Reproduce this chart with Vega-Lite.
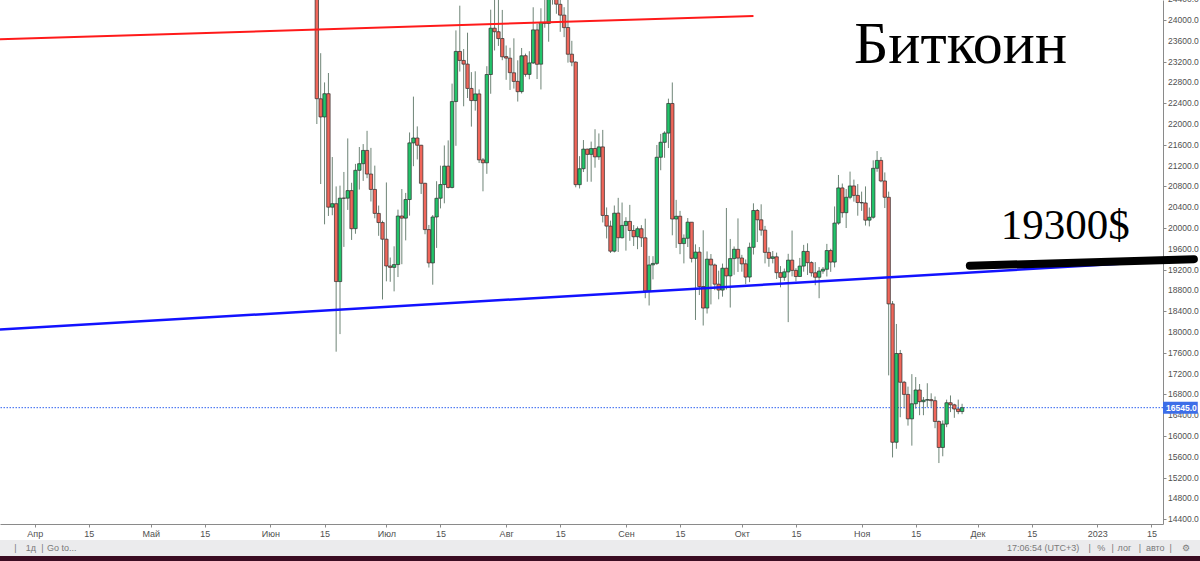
{
  "$schema": "https://vega.github.io/schema/vega-lite/v6.json",
  "autosize": {"type": "none"},
  "padding": {"left": 0, "top": 0, "right": 37, "bottom": 37},
  "background": "white",
  "width": 1163,
  "height": 524,
  "config": {
    "view": {"stroke": null},
    "font": "Liberation Sans",
    "scale": {"continuousPadding": 0}
  },
  "datasets": {
    "candles": [
      {"d":"2022-06-13","o":26574,"h":26895,"l":22000,"c":22487},
      {"d":"2022-06-14","o":22485,"h":23362,"l":20846,"c":22136},
      {"d":"2022-06-15","o":22136,"h":22800,"l":20071,"c":22583},
      {"d":"2022-06-16","o":22583,"h":22981,"l":20232,"c":20401},
      {"d":"2022-06-17","o":20401,"h":21365,"l":20246,"c":20468},
      {"d":"2022-06-18","o":20468,"h":20800,"l":17622,"c":18970},
      {"d":"2022-06-19","o":18970,"h":20815,"l":17960,"c":20574},
      {"d":"2022-06-20","o":20574,"h":21078,"l":19637,"c":20573},
      {"d":"2022-06-21","o":20574,"h":21723,"l":20348,"c":20720},
      {"d":"2022-06-22","o":20720,"h":20870,"l":19771,"c":19987},
      {"d":"2022-06-23","o":19988,"h":21233,"l":19890,"c":21110},
      {"d":"2022-06-24","o":21110,"h":21558,"l":20740,"c":21237},
      {"d":"2022-06-25","o":21237,"h":21614,"l":20906,"c":21492},
      {"d":"2022-06-26","o":21492,"h":21869,"l":20958,"c":21038},
      {"d":"2022-06-27","o":21038,"h":21541,"l":20510,"c":20742},
      {"d":"2022-06-28","o":20742,"h":21200,"l":20187,"c":20281},
      {"d":"2022-06-29","o":20281,"h":20432,"l":19850,"c":20105},
      {"d":"2022-06-30","o":20105,"h":20141,"l":18626,"c":19785},
      {"d":"2022-07-01","o":19785,"h":20876,"l":18975,"c":19270},
      {"d":"2022-07-02","o":19269,"h":19432,"l":18966,"c":19243},
      {"d":"2022-07-03","o":19243,"h":19648,"l":18782,"c":19297},
      {"d":"2022-07-04","o":19297,"h":20354,"l":19057,"c":20231},
      {"d":"2022-07-05","o":20231,"h":20750,"l":19304,"c":20190},
      {"d":"2022-07-06","o":20190,"h":20675,"l":19762,"c":20548},
      {"d":"2022-07-07","o":20548,"h":21838,"l":20238,"c":21637},
      {"d":"2022-07-08","o":21637,"h":22527,"l":21189,"c":21731},
      {"d":"2022-07-09","o":21731,"h":21954,"l":21319,"c":21592},
      {"d":"2022-07-10","o":21592,"h":21599,"l":20655,"c":20860},
      {"d":"2022-07-11","o":20860,"h":20870,"l":19880,"c":19970},
      {"d":"2022-07-12","o":19970,"h":20059,"l":19240,"c":19329},
      {"d":"2022-07-13","o":19329,"h":20250,"l":18910,"c":20212},
      {"d":"2022-07-14","o":20212,"h":20900,"l":19617,"c":20572},
      {"d":"2022-07-15","o":20573,"h":21200,"l":20377,"c":20836},
      {"d":"2022-07-16","o":20836,"h":21588,"l":20475,"c":21190},
      {"d":"2022-07-17","o":21190,"h":21685,"l":20760,"c":20780},
      {"d":"2022-07-18","o":20780,"h":22777,"l":20762,"c":22432},
      {"d":"2022-07-19","o":22432,"h":23800,"l":21581,"c":23396},
      {"d":"2022-07-20","o":23396,"h":24276,"l":23009,"c":23223},
      {"d":"2022-07-21","o":23223,"h":23442,"l":22341,"c":23152},
      {"d":"2022-07-22","o":23152,"h":23756,"l":22500,"c":22684},
      {"d":"2022-07-23","o":22684,"h":22998,"l":21950,"c":22451},
      {"d":"2022-07-24","o":22451,"h":23014,"l":22257,"c":22579},
      {"d":"2022-07-25","o":22579,"h":22666,"l":21250,"c":21310},
      {"d":"2022-07-26","o":21310,"h":21347,"l":20706,"c":21254},
      {"d":"2022-07-27","o":21254,"h":23112,"l":21042,"c":22952},
      {"d":"2022-07-28","o":22952,"h":24199,"l":22582,"c":23843},
      {"d":"2022-07-29","o":23843,"h":24442,"l":23414,"c":23775},
      {"d":"2022-07-30","o":23775,"h":24668,"l":23502,"c":23643},
      {"d":"2022-07-31","o":23644,"h":24194,"l":23227,"c":23293},
      {"d":"2022-08-01","o":23297,"h":23510,"l":22850,"c":23268},
      {"d":"2022-08-02","o":23267,"h":23466,"l":22655,"c":22988},
      {"d":"2022-08-03","o":22985,"h":23648,"l":22681,"c":22819},
      {"d":"2022-08-04","o":22820,"h":23225,"l":22432,"c":22622},
      {"d":"2022-08-05","o":22623,"h":23462,"l":22587,"c":23312},
      {"d":"2022-08-06","o":23314,"h":23354,"l":22910,"c":22955},
      {"d":"2022-08-07","o":22954,"h":23400,"l":22860,"c":23175},
      {"d":"2022-08-08","o":23174,"h":24245,"l":23155,"c":23810},
      {"d":"2022-08-09","o":23810,"h":23925,"l":22865,"c":23149},
      {"d":"2022-08-10","o":23151,"h":24226,"l":22665,"c":23954},
      {"d":"2022-08-11","o":23954,"h":24918,"l":23852,"c":23934},
      {"d":"2022-08-12","o":23934,"h":24456,"l":23583,"c":24403},
      {"d":"2022-08-13","o":24401,"h":24888,"l":24296,"c":24441},
      {"d":"2022-08-14","o":24443,"h":25047,"l":24120,"c":24305},
      {"d":"2022-08-15","o":24302,"h":25211,"l":23773,"c":24094},
      {"d":"2022-08-16","o":24094,"h":24247,"l":23671,"c":23854},
      {"d":"2022-08-17","o":23856,"h":24446,"l":23180,"c":23342},
      {"d":"2022-08-18","o":23343,"h":23600,"l":23111,"c":23191},
      {"d":"2022-08-19","o":23191,"h":23203,"l":20783,"c":20834},
      {"d":"2022-08-20","o":20834,"h":21382,"l":20761,"c":21140},
      {"d":"2022-08-21","o":21140,"h":21692,"l":21077,"c":21517},
      {"d":"2022-08-22","o":21517,"h":21525,"l":20890,"c":21416},
      {"d":"2022-08-23","o":21416,"h":21662,"l":20890,"c":21528},
      {"d":"2022-08-24","o":21529,"h":21900,"l":21160,"c":21368},
      {"d":"2022-08-25","o":21369,"h":21819,"l":21310,"c":21560},
      {"d":"2022-08-26","o":21560,"h":21887,"l":20107,"c":20242},
      {"d":"2022-08-27","o":20241,"h":20396,"l":19800,"c":20037},
      {"d":"2022-08-28","o":20037,"h":20142,"l":19520,"c":19555},
      {"d":"2022-08-29","o":19555,"h":20433,"l":19530,"c":20285},
      {"d":"2022-08-30","o":20287,"h":20580,"l":19540,"c":19813},
      {"d":"2022-08-31","o":19813,"h":20490,"l":19798,"c":20050},
      {"d":"2022-09-01","o":20049,"h":20208,"l":19565,"c":20127},
      {"d":"2022-09-02","o":20127,"h":20445,"l":19754,"c":19952},
      {"d":"2022-09-03","o":19953,"h":20057,"l":19655,"c":19832},
      {"d":"2022-09-04","o":19832,"h":20029,"l":19593,"c":19986},
      {"d":"2022-09-05","o":19986,"h":20055,"l":19636,"c":19812},
      {"d":"2022-09-06","o":19812,"h":20180,"l":18650,"c":18791},
      {"d":"2022-09-07","o":18790,"h":19464,"l":18510,"c":19290},
      {"d":"2022-09-08","o":19292,"h":19458,"l":19012,"c":19319},
      {"d":"2022-09-09","o":19320,"h":21597,"l":19291,"c":21361},
      {"d":"2022-09-10","o":21361,"h":21810,"l":21111,"c":21649},
      {"d":"2022-09-11","o":21648,"h":21860,"l":21350,"c":21826},
      {"d":"2022-09-12","o":21826,"h":22488,"l":21538,"c":22395},
      {"d":"2022-09-13","o":22395,"h":22799,"l":19860,"c":20173},
      {"d":"2022-09-14","o":20173,"h":20541,"l":19617,"c":20226},
      {"d":"2022-09-15","o":20227,"h":20330,"l":19497,"c":19701},
      {"d":"2022-09-16","o":19701,"h":19877,"l":19320,"c":19803},
      {"d":"2022-09-17","o":19803,"h":20192,"l":19635,"c":20113},
      {"d":"2022-09-18","o":20112,"h":20112,"l":19338,"c":19416},
      {"d":"2022-09-19","o":19417,"h":19686,"l":18232,"c":19537},
      {"d":"2022-09-20","o":19537,"h":19634,"l":18711,"c":18875},
      {"d":"2022-09-21","o":18875,"h":19956,"l":18125,"c":18461},
      {"d":"2022-09-22","o":18461,"h":19550,"l":18356,"c":19401},
      {"d":"2022-09-23","o":19401,"h":19500,"l":18531,"c":19289},
      {"d":"2022-09-24","o":19289,"h":19316,"l":18805,"c":18920},
      {"d":"2022-09-25","o":18920,"h":19180,"l":18629,"c":18807},
      {"d":"2022-09-26","o":18807,"h":19316,"l":18680,"c":19227},
      {"d":"2022-09-27","o":19227,"h":20385,"l":18816,"c":19079},
      {"d":"2022-09-28","o":19079,"h":19790,"l":18471,"c":19412},
      {"d":"2022-09-29","o":19412,"h":19645,"l":19101,"c":19591},
      {"d":"2022-09-30","o":19590,"h":20185,"l":19155,"c":19422},
      {"d":"2022-10-01","o":19423,"h":19484,"l":19160,"c":19310},
      {"d":"2022-10-02","o":19312,"h":19395,"l":18920,"c":19056},
      {"d":"2022-10-03","o":19057,"h":19719,"l":18959,"c":19629},
      {"d":"2022-10-04","o":19629,"h":20475,"l":19490,"c":20337},
      {"d":"2022-10-05","o":20337,"h":20365,"l":19730,"c":20158},
      {"d":"2022-10-06","o":20158,"h":20456,"l":19853,"c":19960},
      {"d":"2022-10-07","o":19960,"h":20041,"l":19320,"c":19531},
      {"d":"2022-10-08","o":19531,"h":19627,"l":19255,"c":19417},
      {"d":"2022-10-09","o":19416,"h":19558,"l":19320,"c":19446},
      {"d":"2022-10-10","o":19446,"h":19527,"l":19020,"c":19141},
      {"d":"2022-10-11","o":19141,"h":19268,"l":18860,"c":19051},
      {"d":"2022-10-12","o":19052,"h":19221,"l":18987,"c":19157},
      {"d":"2022-10-13","o":19156,"h":19504,"l":18190,"c":19382},
      {"d":"2022-10-14","o":19382,"h":19951,"l":19070,"c":19185},
      {"d":"2022-10-15","o":19185,"h":19227,"l":18975,"c":19067},
      {"d":"2022-10-16","o":19068,"h":19425,"l":19063,"c":19268},
      {"d":"2022-10-17","o":19268,"h":19676,"l":19160,"c":19550},
      {"d":"2022-10-18","o":19550,"h":19706,"l":19097,"c":19334},
      {"d":"2022-10-19","o":19335,"h":19360,"l":19066,"c":19139},
      {"d":"2022-10-20","o":19139,"h":19345,"l":18900,"c":19053},
      {"d":"2022-10-21","o":19053,"h":19250,"l":18650,"c":19172},
      {"d":"2022-10-22","o":19172,"h":19250,"l":19120,"c":19208},
      {"d":"2022-10-23","o":19207,"h":19695,"l":19068,"c":19567},
      {"d":"2022-10-24","o":19567,"h":19601,"l":19157,"c":19345},
      {"d":"2022-10-25","o":19345,"h":20415,"l":19243,"c":20095},
      {"d":"2022-10-26","o":20095,"h":21020,"l":20063,"c":20771},
      {"d":"2022-10-27","o":20771,"h":20855,"l":20200,"c":20295},
      {"d":"2022-10-28","o":20295,"h":20750,"l":20000,"c":20591},
      {"d":"2022-10-29","o":20591,"h":21085,"l":20553,"c":20809},
      {"d":"2022-10-30","o":20809,"h":20931,"l":20507,"c":20627},
      {"d":"2022-10-31","o":20627,"h":20845,"l":20237,"c":20490},
      {"d":"2022-11-01","o":20490,"h":20700,"l":20330,"c":20483},
      {"d":"2022-11-02","o":20482,"h":20800,"l":20048,"c":20151},
      {"d":"2022-11-03","o":20151,"h":20393,"l":20031,"c":20207},
      {"d":"2022-11-04","o":20207,"h":21302,"l":20180,"c":21148},
      {"d":"2022-11-05","o":21148,"h":21480,"l":21082,"c":21300},
      {"d":"2022-11-06","o":21300,"h":21365,"l":20880,"c":20905},
      {"d":"2022-11-07","o":20905,"h":21069,"l":20384,"c":20591},
      {"d":"2022-11-08","o":20591,"h":20700,"l":17166,"c":18541},
      {"d":"2022-11-09","o":18541,"h":18595,"l":15588,"c":15880},
      {"d":"2022-11-10","o":15880,"h":18155,"l":15755,"c":17587},
      {"d":"2022-11-11","o":17587,"h":17655,"l":16361,"c":17034},
      {"d":"2022-11-12","o":17034,"h":17060,"l":16531,"c":16800},
      {"d":"2022-11-13","o":16800,"h":16950,"l":16200,"c":16330},
      {"d":"2022-11-14","o":16330,"h":17190,"l":15815,"c":16620},
      {"d":"2022-11-15","o":16620,"h":17134,"l":16526,"c":16885},
      {"d":"2022-11-16","o":16885,"h":17000,"l":16400,"c":16660},
      {"d":"2022-11-17","o":16660,"h":16750,"l":16400,"c":16690},
      {"d":"2022-11-18","o":16690,"h":17015,"l":16550,"c":16700},
      {"d":"2022-11-19","o":16700,"h":16821,"l":16560,"c":16680},
      {"d":"2022-11-20","o":16680,"h":16760,"l":16150,"c":16280},
      {"d":"2022-11-21","o":16280,"h":16300,"l":15480,"c":15780},
      {"d":"2022-11-22","o":15780,"h":16300,"l":15610,"c":16230},
      {"d":"2022-11-23","o":16230,"h":16700,"l":16170,"c":16640},
      {"d":"2022-11-24","o":16640,"h":16780,"l":16460,"c":16600},
      {"d":"2022-11-25","o":16600,"h":16620,"l":16350,"c":16520},
      {"d":"2022-11-26","o":16520,"h":16700,"l":16420,"c":16470},
      {"d":"2022-11-27","o":16470,"h":16620,"l":16420,"c":16545}
    ],
    "redline": [{"d":"2022-03-23","p":23629},{"d":"2022-10-04","p":24077}],
    "blueline": [{"d":"2022-03-23","p":18046},{"d":"2023-01-18","p":19362}],
    "blackline": [{"d":"2022-11-29","p":19275},{"d":"2023-01-26","p":19400}],
    "price": [{"p":16545,"label":"16545.0","d0":"2023-01-18","d1":"2023-01-27"}],
    "notes": [
      {"d":"2022-10-30","p":23173,"text":"Биткоин","kind":"title"},
      {"d":"2022-12-07","p":19788,"text":"19300$","kind":"target"}
    ],
    "ticks": [
      {"v":14400},{"v":14800},{"v":15200},{"v":15600},{"v":16000},{"v":16400},{"v":16800},
      {"v":17200},{"v":17600},{"v":18000},{"v":18400},{"v":18800},{"v":19200},{"v":19600},
      {"v":20000},{"v":20400},{"v":20800},{"v":21200},{"v":21600},{"v":22000},{"v":22400},
      {"v":22800},{"v":23200},{"v":23600},{"v":24000},{"v":24400}
    ],
    "strip": [{"a":"2022-03-23","b":"2023-01-27T14:00:00Z"}],
    "toolbar": [
      {"d":"2022-03-27","t":"|"},
      {"d":"2022-03-31","t":"1д"},
      {"d":"2022-04-03","t":"|"},
      {"d":"2022-04-08","t":"Go to..."},
      {"d":"2022-12-18","t":"17:06:54 (UTC+3)"},
      {"d":"2022-12-30","t":"|"},
      {"d":"2023-01-02","t":"%"},
      {"d":"2023-01-05","t":"|"},
      {"d":"2023-01-08","t":"лог"},
      {"d":"2023-01-12","t":"|"},
      {"d":"2023-01-16","t":"авто"},
      {"d":"2023-01-20","t":"|"},
      {"d":"2023-01-24","t":"⚙"}
    ]
  },
  "layer": [
    {
      "data": {"name": "candles"},
      "mark": {"type": "rule", "color": "#6f8577", "strokeWidth": 1, "clip": true},
      "encoding": {
        "x": {
          "field": "d", "type": "temporal",
          "scale": {"type": "utc", "padding": 0, "domain": [{"year":2022,"month":3,"date":23,"utc":true},{"year":2023,"month":1,"date":18,"utc":true}]},
          "axis": {
            "orient": "bottom", "title": null, "grid": false,
            "values": [
              {"year":2022,"month":4,"date":1,"utc":true},{"year":2022,"month":4,"date":15,"utc":true},
              {"year":2022,"month":5,"date":1,"utc":true},{"year":2022,"month":5,"date":15,"utc":true},
              {"year":2022,"month":6,"date":1,"utc":true},{"year":2022,"month":6,"date":15,"utc":true},
              {"year":2022,"month":7,"date":1,"utc":true},{"year":2022,"month":7,"date":15,"utc":true},
              {"year":2022,"month":8,"date":1,"utc":true},{"year":2022,"month":8,"date":15,"utc":true},
              {"year":2022,"month":9,"date":1,"utc":true},{"year":2022,"month":9,"date":15,"utc":true},
              {"year":2022,"month":10,"date":1,"utc":true},{"year":2022,"month":10,"date":15,"utc":true},
              {"year":2022,"month":11,"date":1,"utc":true},{"year":2022,"month":11,"date":15,"utc":true},
              {"year":2022,"month":12,"date":1,"utc":true},{"year":2022,"month":12,"date":15,"utc":true},
              {"year":2023,"month":1,"date":1,"utc":true},{"year":2023,"month":1,"date":15,"utc":true}
            ],
            "labelExpr": "utcdate(datum.value) == 15 ? '15' : (utcmonth(datum.value) == 0 ? '2023' : ['Янв','Фев','Мар','Апр','Май','Июн','Июл','Авг','Сен','Окт','Ноя','Дек'][utcmonth(datum.value)])",
            "labelOverlap": false, "labelFlush": false,
            "tickSize": 3, "labelPadding": 2, "labelFontSize": 9, "labelColor": "#505050",
            "domainColor": "#8a8a8a", "tickColor": "#8a8a8a"
          }
        },
        "y": {
          "field": "l", "type": "quantitative",
          "scale": {"domain": [14308, 24385], "nice": false, "zero": false},
          "axis": {
            "orient": "right", "title": null, "grid": false, "labels": false,
            "values": [14400,14800,15200,15600,16000,16400,16800,17200,17600,18000,18400,18800,19200,19600,20000,20400,20800,21200,21600,22000,22400,22800,23200,23600,24000,24400],
            "tickSize": 3,
            "domainColor": "#8a8a8a", "tickColor": "#8a8a8a"
          }
        },
        "y2": {"field": "h"}
      }
    },
    {
      "data": {"name": "ticks"},
      "mark": {"type": "text", "fontSize": 8.5, "color": "#505050", "align": "left", "baseline": "middle", "dx": 5},
      "encoding": {
        "x": {"datum": {"year":2023,"month":1,"date":18,"utc":true}, "type": "temporal"},
        "y": {"field": "v", "type": "quantitative"},
        "text": {"field": "v", "type": "quantitative", "format": ".1f"}
      }
    },
    {
      "data": {"name": "strip"},
      "mark": {"type": "rect", "color": "#ebebed"},
      "encoding": {
        "x": {"field": "a", "type": "temporal"},
        "x2": {"field": "b"},
        "y": {"datum": 14000, "type": "quantitative"},
        "y2": {"datum": 13692}
      }
    },
    {
      "data": {"name": "strip"},
      "mark": {"type": "rect", "color": "#3b0c22"},
      "encoding": {
        "x": {"field": "a", "type": "temporal"},
        "x2": {"field": "b"},
        "y": {"datum": 13692, "type": "quantitative"},
        "y2": {"datum": 13580}
      }
    },
    {
      "data": {"name": "toolbar"},
      "mark": {"type": "text", "fontSize": 9, "color": "#7a7a7a", "baseline": "middle"},
      "encoding": {
        "x": {"field": "d", "type": "temporal"},
        "y": {"datum": 13846, "type": "quantitative"},
        "text": {"field": "t"}
      }
    },
    {
      "data": {"name": "price"},
      "mark": {"type": "rule", "color": "#2f62f0", "strokeWidth": 1, "strokeDash": [1.5, 1.5]},
      "encoding": {
        "y": {"field": "p", "type": "quantitative"}
      }
    },
    {
      "data": {"name": "candles"},
      "mark": {"type": "bar", "size": 3.4, "stroke": "#2d2d2d", "strokeWidth": 0.7, "clip": true},
      "encoding": {
        "x": {"field": "d", "type": "temporal"},
        "y": {"field": "o", "type": "quantitative"},
        "y2": {"field": "c"},
        "fill": {"condition": {"test": "datum.c >= datum.o", "value": "#22c46a"}, "value": "#f0665a"}
      }
    },
    {
      "data": {"name": "redline"},
      "mark": {"type": "line", "color": "#ff1a1a", "strokeWidth": 2},
      "encoding": {
        "x": {"field": "d", "type": "temporal"},
        "y": {"field": "p", "type": "quantitative"}
      }
    },
    {
      "data": {"name": "blueline"},
      "mark": {"type": "line", "color": "#1212ff", "strokeWidth": 2.5},
      "encoding": {
        "x": {"field": "d", "type": "temporal"},
        "y": {"field": "p", "type": "quantitative"}
      }
    },
    {
      "data": {"name": "blackline"},
      "mark": {"type": "line", "color": "#000000", "strokeWidth": 8, "strokeCap": "round"},
      "encoding": {
        "x": {"field": "d", "type": "temporal"},
        "y": {"field": "p", "type": "quantitative"}
      }
    },
    {
      "data": {"name": "price"},
      "mark": {"type": "rect", "color": "#3d6ee8"},
      "encoding": {
        "x": {"field": "d0", "type": "temporal"},
        "x2": {"field": "d1"},
        "y": {"datum": 16658, "type": "quantitative"},
        "y2": {"datum": 16428}
      }
    },
    {
      "data": {"name": "price"},
      "mark": {"type": "text", "color": "white", "fontSize": 8.5, "fontWeight": "bold", "align": "left", "dx": 3, "baseline": "middle"},
      "encoding": {
        "x": {"field": "d0", "type": "temporal"},
        "y": {"field": "p", "type": "quantitative"},
        "text": {"field": "label"}
      }
    },
    {
      "data": {"name": "notes"},
      "mark": {"type": "text", "font": "Liberation Serif", "color": "#000000", "align": "left", "baseline": "alphabetic"},
      "encoding": {
        "x": {"field": "d", "type": "temporal"},
        "y": {"field": "p", "type": "quantitative"},
        "text": {"field": "text"},
        "size": {"condition": {"test": "datum.kind == 'title'", "value": 60}, "value": 43}
      }
    }
  ]
}
